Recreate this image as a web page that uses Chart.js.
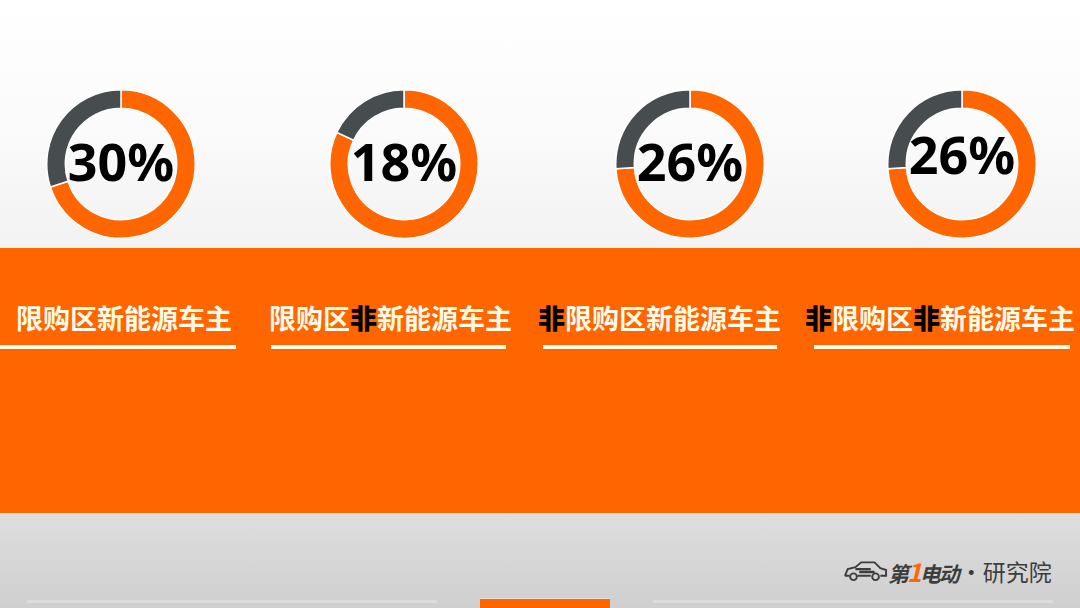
<!DOCTYPE html>
<html lang="zh">
<head>
<meta charset="UTF-8">
<title>限购区新能源车主</title>
<script src="https://cdn.jsdelivr.net/npm/chart.js"></script>
<style>
    html, body { margin: 0; padding: 0; }
    body { width: 1080px; height: 608px; position: relative; overflow: hidden; font-family: "Noto Sans CJK SC", "Noto Sans", sans-serif; }
    .top { position: absolute; left: 0; top: 0; width: 1080px; height: 248px; background: linear-gradient(#ffffff 0%, #fbfbfb 50%, #f2f2f2 100%); }
    .band { position: absolute; left: 0; top: 248px; width: 1080px; height: 265px; background: #ff6600; }
    .bottom { position: absolute; left: 0; top: 513px; width: 1080px; height: 95px; background: linear-gradient(#dedede, #cfcfcf); border-top: 1px solid #e8e8e8; }
    .donut { position: absolute; top: 89px; width: 150px; height: 150px; }
    .label { position: absolute; top: 300px; font-size: 27px; font-weight: bold; color: #fffbe8; white-space: nowrap; line-height: 36px; }
    .label b { color: #000; }
    .rule { position: absolute; top: 345px; height: 4px; background: #fffbe8; }
    .foot-line { position: absolute; top: 600px; height: 3px; background: #dcdcdc; }
    .foot-box { position: absolute; left: 480px; top: 598px; width: 130px; height: 10px; background: #ff6600; border-top: 1px solid #e0e0e0; }
    .logo { position: absolute; left: 842px; top: 553px; height: 36px; display: flex; align-items: center; color: #3d3d3d; white-space: nowrap; }
    .logo .brand { font-size: 21px; font-weight: bold; font-style: italic; letter-spacing: -2px; }
    .logo .one { color: #ff6600; font-size: 25px; }
    .logo .inst { font-size: 23px; margin-left: 2px; }
</style>
</head>
<body>
<div class="top"></div>
<div class="band"></div>
<div class="bottom"></div>

<div id="labels"></div>

<div class="foot-line" style="left:27px;width:410px;"></div>
<div class="foot-box"></div>
<div class="foot-line" style="left:653px;width:400px;"></div>

<div class="logo">
    <svg width="46" height="24" viewBox="0 0 48 24">
        <path d="M3 17 L6 10 L14 8 L20 3 L34 3 L40 9 L46 11 L46 17 L40 17 M30 17 L16 17 M8 17 L3 17" fill="none" stroke="#3d3d3d" stroke-width="2"/>
        <circle cx="12" cy="18" r="3.5" fill="none" stroke="#3d3d3d" stroke-width="2"/>
        <circle cx="35" cy="18" r="3.5" fill="none" stroke="#3d3d3d" stroke-width="2"/>
        <path d="M14 10 L30 10 M18 13 L34 13" stroke="#3d3d3d" stroke-width="2.5"/>
    </svg>
    <span class="brand">第<span class="one">1</span>电动</span>
    <span class="inst">·研究院</span>
</div>

<script>
    // groups and their share (percent)
    const groups = ['限购区新能源车主', '限购区非新能源车主', '非限购区新能源车主', '非限购区非新能源车主'];
    const shares = [30, 18, 26, 26];

    const orange = '#ff6600';
    const grey = '#474c4f';

    // layout only
    const centersX = [121, 404, 690, 962];
    const textShift = [0, 0, 0, -7];
    const labelLeft = [16, 269, 538, 805];
    const ruleSpan = [[0, 236], [271, 506], [543, 777], [814, 1070]];

    const centerText = {
        id: 'centerText',
        afterDraw(chart, args, opts) {
            const { ctx, chartArea } = chart;
            const cx = (chartArea.left + chartArea.right) / 2;
            const cy = (chartArea.top + chartArea.bottom) / 2 + (opts.shift || 0);
            ctx.save();
            ctx.font = 'bold 52px "Noto Sans", "DejaVu Sans", sans-serif';
            ctx.fillStyle = '#000';
            ctx.textAlign = 'center';
            ctx.textBaseline = 'middle';
            ctx.fillText(opts.text, cx, cy + 2);
            ctx.restore();
        }
    };

    const labelsDiv = document.getElementById('labels');

    groups.forEach((name, i) => {
        const box = document.createElement('div');
        box.className = 'donut';
        box.style.left = (centersX[i] - 75) + 'px';
        const cv = document.createElement('canvas');
        cv.width = 150; cv.height = 150;
        box.appendChild(cv);
        document.body.appendChild(box);

        new Chart(cv.getContext('2d'), {
            type: 'doughnut',
            data: {
                labels: ['其他', name],
                datasets: [{
                    data: [100 - shares[i], shares[i]],
                    backgroundColor: [orange, grey],
                    borderColor: '#ffffff',
                    borderWidth: 1.5
                }]
            },
            options: {
                responsive: false,
                animation: false,
                cutout: '75%',
                layout: { padding: 0 },
                plugins: {
                    legend: { display: false },
                    tooltip: { enabled: false },
                    centerText: { text: shares[i] + '%', shift: textShift[i] }
                }
            },
            plugins: [centerText]
        });

        const lab = document.createElement('div');
        lab.className = 'label';
        lab.style.left = labelLeft[i] + 'px';
        lab.innerHTML = name.replace(/非/g, '<b>非</b>');
        labelsDiv.appendChild(lab);

        const rule = document.createElement('div');
        rule.className = 'rule';
        rule.style.left = ruleSpan[i][0] + 'px';
        rule.style.width = (ruleSpan[i][1] - ruleSpan[i][0]) + 'px';
        labelsDiv.appendChild(rule);
    });
</script>
</body>
</html>
